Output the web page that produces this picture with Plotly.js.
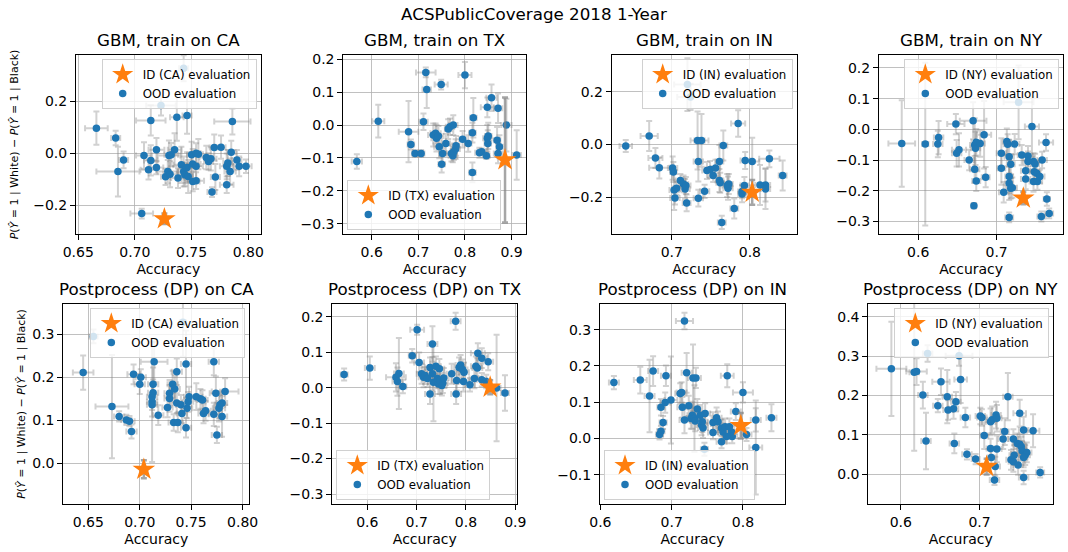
<!DOCTYPE html>
<html><head><meta charset="utf-8">
<script src="https://cdn.plot.ly/plotly-3.0.1.min.js"></script>
<style>html,body{margin:0;padding:0;background:#fff}#chart{width:1068px;height:552px}</style>
</head><body><div id="chart"></div>
<script>
// ---------- DATA ----------
const suptitle = 'ACSPublicCoverage 2018 1-Year';
const panelTitles = ['GBM, train on CA','GBM, train on TX','GBM, train on IN','GBM, train on NY',
  'Postprocess (DP) on CA','Postprocess (DP) on TX','Postprocess (DP) on IN','Postprocess (DP) on NY'];
const trainStates = ['CA','TX','IN','NY','CA','TX','IN','NY'];
const xLabel = 'Accuracy';
const yLabel = '<i>P</i>(<i>Ŷ</i> = 1 | White) − <i>P</i>(<i>Ŷ</i> = 1 | Black)';

// ID (in-domain) evaluation per panel
const idAcc    = [0.726, 0.886, 0.803, 0.734, 0.704, 0.849, 0.797, 0.709];
const idGap    = [-0.253, -0.106, -0.182, -0.224, -0.014, 0.001, 0.035, 0.019];
const idAccErr = [0.003, 0.005, 0.004, 0.004, 0.003, 0.005, 0.003, 0.003];
const idGapErr = [0.020, 0.190, 0.047, 0.020, 0.021, 0.020, 0.035, 0.020];

// OOD evaluation: GBM train on CA
const gbmCA_acc = [0.666,0.683,0.690,0.685,0.706,0.708,0.714,0.723,0.714,0.712,0.719,0.730,0.735,0.737,0.746,0.743,0.729,0.727,0.731,0.738,0.741,0.743,0.744,0.746,0.747,0.750,0.751,0.754,0.754,0.754,0.756,0.763,0.765,0.767,0.770,0.776,0.786,0.785,0.771,0.768,0.781,0.782,0.781,0.784,0.790,0.792,0.798,0.751,0.719,0.732];
const gbmCA_gap = [0.096,0.058,-0.026,-0.071,-0.233,-0.009,0.126,0.183,-0.028,-0.064,-0.055,-0.009,0.013,0.138,0.145,0.327,-0.071,-0.091,-0.081,-0.096,-0.045,-0.071,-0.083,-0.055,-0.090,-0.006,-0.042,0.000,-0.051,-0.106,-0.004,-0.017,-0.032,-0.022,0.022,0.023,0.122,0.003,-0.092,-0.150,-0.051,-0.038,-0.122,-0.071,-0.026,-0.051,-0.051,-0.109,0.013,-0.006];
const gbmCA_accErr = [0.010,0.004,0.004,0.019,0.010,0.007,0.013,0.013,0.006,0.007,0.006,0.010,0.006,0.006,0.004,0.004,0.009,0.004,0.006,0.006,0.007,0.006,0.005,0.007,0.004,0.004,0.007,0.004,0.006,0.007,0.004,0.006,0.004,0.005,0.004,0.004,0.016,0.004,0.004,0.004,0.006,0.004,0.006,0.005,0.004,0.005,0.005,0.006,0.007,0.006];
const gbmCA_gapErr = [0.064,0.028,0.032,0.096,0.019,0.051,0.058,0.038,0.058,0.038,0.026,0.058,0.064,0.090,0.070,0.050,0.045,0.032,0.050,0.038,0.070,0.058,0.045,0.058,0.064,0.050,0.058,0.038,0.050,0.032,0.058,0.045,0.032,0.045,0.050,0.045,0.050,0.045,0.050,0.019,0.050,0.050,0.032,0.050,0.038,0.038,0.026,0.038,0.045,0.045];

// GBM train on TX
const gbmTX_acc = [0.568,0.614,0.679,0.684,0.693,0.706,0.711,0.716,0.718,0.749,0.732,0.737,0.739,0.743,0.745,0.752,0.750,0.759,0.764,0.768,0.775,0.771,0.774,0.776,0.780,0.781,0.800,0.795,0.807,0.816,0.818,0.816,0.831,0.836,0.846,0.848,0.849,0.850,0.848,0.857,0.871,0.869,0.874,0.871,0.889,0.911];
const gbmTX_gap = [-0.111,0.012,-0.020,-0.059,-0.086,-0.086,0.010,0.160,0.108,0.123,-0.030,-0.025,-0.040,-0.033,-0.066,-0.086,-0.119,-0.056,-0.012,-0.005,0.000,-0.086,-0.093,-0.081,-0.073,-0.063,0.152,-0.043,-0.056,-0.023,0.022,-0.144,-0.084,-0.081,-0.093,-0.040,-0.056,-0.033,0.054,0.083,0.051,-0.046,-0.066,-0.086,0.000,-0.091];
const gbmTX_accErr = [0.011,0.013,0.021,0.007,0.007,0.007,0.009,0.021,0.009,0.014,0.011,0.011,0.011,0.011,0.011,0.007,0.007,0.009,0.007,0.009,0.009,0.009,0.009,0.007,0.009,0.007,0.014,0.007,0.007,0.007,0.007,0.007,0.009,0.009,0.007,0.009,0.007,0.007,0.014,0.011,0.009,0.007,0.007,0.009,0.011,0.009];
const gbmTX_gapErr = [0.022,0.050,0.093,0.015,0.010,0.010,0.025,0.015,0.056,0.015,0.035,0.030,0.040,0.030,0.035,0.030,0.025,0.030,0.030,0.025,0.030,0.025,0.020,0.025,0.030,0.030,0.040,0.025,0.025,0.030,0.060,0.030,0.015,0.010,0.010,0.040,0.040,0.040,0.030,0.040,0.045,0.040,0.035,0.030,0.080,0.075];

// GBM train on IN
const gbmIN_acc = [0.641,0.671,0.679,0.684,0.701,0.702,0.703,0.704,0.706,0.711,0.715,0.717,0.718,0.719,0.720,0.724,0.733,0.738,0.734,0.734,0.742,0.745,0.749,0.753,0.756,0.761,0.761,0.762,0.766,0.764,0.771,0.772,0.773,0.780,0.785,0.790,0.790,0.793,0.794,0.803,0.820,0.825,0.842,0.813,0.820];
const gbmIN_gap = [-0.006,0.032,-0.052,-0.089,-0.090,-0.105,-0.173,-0.203,-0.166,-0.137,-0.150,-0.169,-0.156,-0.222,0.227,0.180,0.015,0.015,-0.065,-0.204,-0.178,-0.099,-0.095,-0.118,-0.090,-0.065,-0.137,-0.146,-0.004,-0.296,-0.156,-0.166,-0.150,-0.243,0.079,-0.188,-0.179,-0.156,-0.061,-0.065,-0.154,-0.055,-0.118,-0.154,-0.169];
const gbmIN_accErr = [0.008,0.011,0.009,0.013,0.006,0.004,0.006,0.006,0.004,0.006,0.006,0.006,0.006,0.005,0.017,0.017,0.009,0.009,0.006,0.006,0.006,0.006,0.006,0.006,0.006,0.005,0.005,0.005,0.005,0.005,0.006,0.006,0.005,0.005,0.009,0.005,0.005,0.005,0.006,0.009,0.006,0.013,0.005,0.006,0.006];
const gbmIN_gapErr = [0.023,0.057,0.038,0.040,0.044,0.038,0.076,0.025,0.025,0.025,0.032,0.038,0.032,0.032,0.100,0.050,0.110,0.100,0.076,0.032,0.025,0.032,0.032,0.025,0.032,0.063,0.044,0.038,0.057,0.025,0.044,0.044,0.038,0.038,0.050,0.032,0.025,0.032,0.032,0.090,0.063,0.032,0.057,0.076,0.076];

// GBM train on NY
const gbmNY_acc = [0.579,0.609,0.626,0.625,0.648,0.649,0.652,0.665,0.670,0.672,0.673,0.674,0.672,0.674,0.679,0.684,0.686,0.671,0.706,0.706,0.709,0.713,0.714,0.716,0.716,0.716,0.716,0.718,0.718,0.720,0.723,0.728,0.732,0.737,0.737,0.740,0.740,0.745,0.747,0.748,0.747,0.749,0.751,0.752,0.755,0.758,0.757,0.763,0.764,0.767];
const gbmNY_gap = [-0.046,-0.048,-0.027,-0.048,0.017,-0.078,-0.067,-0.100,0.028,-0.051,-0.062,-0.042,-0.130,-0.168,-0.046,-0.018,-0.156,-0.249,-0.078,-0.127,-0.205,-0.040,-0.049,-0.089,-0.154,-0.176,-0.287,-0.114,-0.192,-0.190,-0.048,0.088,-0.084,-0.135,-0.162,-0.087,-0.105,0.009,-0.105,-0.138,-0.170,-0.113,-0.143,-0.170,-0.154,-0.100,-0.284,-0.043,-0.227,-0.274];
const gbmNY_accErr = [0.017,0.004,0.006,0.006,0.011,0.006,0.009,0.006,0.017,0.006,0.006,0.006,0.006,0.005,0.006,0.009,0.005,0.003,0.006,0.005,0.006,0.005,0.005,0.006,0.005,0.005,0.005,0.005,0.006,0.006,0.006,0.019,0.005,0.006,0.006,0.006,0.006,0.009,0.006,0.006,0.005,0.005,0.005,0.006,0.006,0.006,0.005,0.009,0.004,0.005];
const gbmNY_gapErr = [0.141,0.265,0.054,0.043,0.033,0.043,0.054,0.033,0.060,0.087,0.054,0.043,0.043,0.033,0.043,0.110,0.033,0.009,0.049,0.054,0.033,0.043,0.033,0.054,0.054,0.054,0.016,0.033,0.033,0.033,0.033,0.120,0.033,0.033,0.033,0.033,0.033,0.098,0.027,0.033,0.033,0.033,0.033,0.027,0.022,0.027,0.016,0.027,0.022,0.016];

// Postprocess (DP) on CA
const dpCA_acc = [0.645,0.655,0.673,0.680,0.687,0.692,0.694,0.700,0.701,0.712,0.712,0.713,0.713,0.714,0.712,0.718,0.727,0.729,0.729,0.732,0.733,0.736,0.734,0.737,0.736,0.740,0.741,0.742,0.745,0.745,0.746,0.748,0.747,0.755,0.759,0.761,0.762,0.764,0.772,0.772,0.774,0.775,0.777,0.780,0.780,0.783,0.778,0.690];
const dpCA_gap = [0.211,0.295,0.132,0.109,0.101,0.074,0.207,0.184,0.200,0.143,0.155,0.164,0.184,0.236,0.136,0.112,0.130,0.151,0.163,0.184,0.095,0.213,0.173,0.095,0.140,0.136,0.116,0.328,0.231,0.083,0.128,0.155,0.143,0.155,0.150,0.147,0.116,0.122,0.114,0.236,0.163,0.066,0.128,0.140,0.109,0.167,0.136,0.098];
const dpCA_accErr = [0.010,0.004,0.016,0.005,0.005,0.005,0.006,0.005,0.005,0.005,0.005,0.005,0.005,0.013,0.005,0.005,0.005,0.005,0.005,0.005,0.005,0.005,0.005,0.005,0.005,0.005,0.005,0.003,0.005,0.005,0.005,0.005,0.005,0.006,0.005,0.005,0.005,0.005,0.005,0.005,0.006,0.005,0.006,0.005,0.005,0.013,0.005,0.005];
const dpCA_gapErr = [0.040,0.016,0.120,0.012,0.012,0.016,0.023,0.023,0.019,0.140,0.031,0.031,0.039,0.047,0.027,0.023,0.023,0.031,0.031,0.031,0.019,0.031,0.031,0.023,0.023,0.023,0.023,0.080,0.078,0.023,0.023,0.023,0.023,0.031,0.023,0.023,0.023,0.023,0.027,0.031,0.039,0.019,0.031,0.031,0.047,0.031,0.031,0.012];

// Postprocess (DP) on TX
const dpTX_acc = [0.553,0.605,0.658,0.661,0.664,0.672,0.691,0.701,0.705,0.710,0.714,0.717,0.722,0.727,0.727,0.732,0.732,0.734,0.739,0.742,0.744,0.746,0.747,0.751,0.753,0.755,0.771,0.779,0.781,0.780,0.786,0.789,0.793,0.795,0.796,0.808,0.817,0.820,0.823,0.824,0.832,0.832,0.841,0.845,0.862,0.879];
const dpTX_gap = [0.037,0.055,0.029,0.017,0.040,0.003,0.090,0.163,0.071,0.039,0.029,0.034,0.026,0.057,-0.018,0.123,0.039,0.015,0.060,0.026,0.010,0.053,0.020,0.006,0.013,0.027,0.039,0.187,0.020,-0.018,0.057,0.064,0.051,0.017,0.043,0.008,0.026,0.060,0.055,0.097,0.083,0.022,0.017,0.073,-0.001,-0.015];
const dpTX_accErr = [0.007,0.010,0.020,0.010,0.010,0.007,0.007,0.014,0.010,0.010,0.010,0.010,0.010,0.010,0.010,0.010,0.010,0.010,0.010,0.010,0.010,0.010,0.010,0.010,0.010,0.010,0.010,0.010,0.010,0.010,0.010,0.010,0.010,0.010,0.010,0.010,0.010,0.010,0.010,0.014,0.010,0.010,0.010,0.010,0.008,0.008];
const dpTX_gapErr = [0.017,0.033,0.040,0.040,0.100,0.019,0.019,0.014,0.028,0.028,0.028,0.024,0.024,0.028,0.028,0.050,0.047,0.110,0.028,0.028,0.028,0.028,0.038,0.028,0.028,0.028,0.028,0.024,0.028,0.028,0.028,0.028,0.028,0.028,0.028,0.019,0.028,0.028,0.028,0.028,0.028,0.019,0.019,0.024,0.150,0.050];

// Postprocess (DP) on IN
const dpIN_acc = [0.619,0.656,0.669,0.674,0.683,0.685,0.685,0.688,0.691,0.692,0.699,0.712,0.714,0.715,0.718,0.721,0.718,0.724,0.727,0.729,0.730,0.734,0.732,0.733,0.736,0.740,0.742,0.743,0.744,0.746,0.747,0.758,0.758,0.763,0.765,0.770,0.770,0.772,0.775,0.778,0.784,0.785,0.790,0.800,0.805,0.818,0.818,0.840,0.781,0.777];
const dpIN_gap = [0.154,0.161,0.117,0.186,0.011,0.020,0.086,0.044,0.099,0.173,0.106,0.124,0.127,0.086,0.324,0.181,0.051,0.090,0.055,0.064,0.167,0.167,0.055,0.048,0.081,0.064,0.037,0.046,0.029,-0.030,0.069,0.044,0.016,0.057,0.046,-0.009,0.029,0.018,0.032,0.173,0.018,0.005,0.074,0.127,0.011,0.051,-0.025,0.057,0.032,0.005];
const dpIN_accErr = [0.007,0.009,0.007,0.007,0.005,0.005,0.005,0.005,0.007,0.007,0.009,0.007,0.007,0.007,0.012,0.007,0.007,0.007,0.007,0.007,0.007,0.007,0.007,0.007,0.007,0.007,0.007,0.007,0.007,0.005,0.007,0.007,0.007,0.007,0.007,0.007,0.007,0.007,0.007,0.009,0.007,0.007,0.007,0.014,0.007,0.007,0.009,0.007,0.007,0.005];
const dpIN_gapErr = [0.018,0.037,0.100,0.041,0.014,0.014,0.023,0.018,0.028,0.028,0.120,0.028,0.028,0.028,0.023,0.055,0.037,0.028,0.028,0.037,0.092,0.028,0.092,0.028,0.028,0.028,0.028,0.028,0.028,0.018,0.028,0.028,0.018,0.028,0.028,0.018,0.023,0.023,0.023,0.032,0.018,0.018,0.023,0.028,0.018,0.032,0.130,0.037,0.023,0.018];

// Postprocess (DP) on NY
const dpNY_acc = [0.588,0.617,0.620,0.632,0.634,0.628,0.647,0.651,0.659,0.660,0.667,0.668,0.670,0.674,0.676,0.682,0.684,0.695,0.701,0.703,0.706,0.714,0.714,0.715,0.716,0.719,0.720,0.721,0.722,0.722,0.730,0.732,0.736,0.740,0.743,0.743,0.744,0.748,0.749,0.751,0.751,0.753,0.754,0.756,0.756,0.758,0.760,0.768,0.777,0.756];
const dpNY_gap = [0.268,0.259,0.261,0.084,0.307,0.201,0.174,0.235,0.197,0.163,0.166,0.078,0.184,0.301,0.241,0.144,0.050,0.038,0.148,0.144,0.098,0.065,0.133,0.042,0.138,-0.015,0.019,0.150,0.064,0.142,0.089,0.108,0.197,0.036,0.031,0.089,0.048,0.078,0.023,0.155,0.076,0.070,0.059,-0.009,0.112,0.048,0.055,0.110,0.004,0.042];
const dpNY_accErr = [0.019,0.006,0.013,0.006,0.006,0.006,0.006,0.011,0.006,0.006,0.006,0.006,0.006,0.017,0.008,0.006,0.006,0.005,0.006,0.006,0.005,0.005,0.006,0.005,0.006,0.006,0.006,0.006,0.006,0.006,0.006,0.005,0.006,0.006,0.006,0.006,0.006,0.006,0.006,0.008,0.006,0.006,0.006,0.006,0.006,0.006,0.006,0.008,0.005,0.005];
const dpNY_gapErr = [0.120,0.200,0.034,0.072,0.021,0.034,0.017,0.034,0.068,0.025,0.025,0.025,0.025,0.025,0.060,0.025,0.013,0.013,0.021,0.021,0.034,0.025,0.034,0.025,0.034,0.013,0.025,0.034,0.034,0.034,0.025,0.034,0.060,0.025,0.025,0.025,0.025,0.025,0.025,0.034,0.025,0.025,0.025,0.017,0.034,0.025,0.025,0.042,0.013,0.025];

// ---------- LAYOUT / STYLE ----------
const W = 1068, H = 552;
const series = [
  [gbmCA_acc, gbmCA_gap, gbmCA_accErr, gbmCA_gapErr],
  [gbmTX_acc, gbmTX_gap, gbmTX_accErr, gbmTX_gapErr],
  [gbmIN_acc, gbmIN_gap, gbmIN_accErr, gbmIN_gapErr],
  [gbmNY_acc, gbmNY_gap, gbmNY_accErr, gbmNY_gapErr],
  [dpCA_acc, dpCA_gap, dpCA_accErr, dpCA_gapErr],
  [dpTX_acc, dpTX_gap, dpTX_accErr, dpTX_gapErr],
  [dpIN_acc, dpIN_gap, dpIN_accErr, dpIN_gapErr],
  [dpNY_acc, dpNY_gap, dpNY_accErr, dpNY_gapErr]
];
// pixel boxes [left, right, top, bottom]
const boxes = [
  [76, 260.7, 55, 234], [343.3, 526, 55, 234], [611.7, 796.7, 55, 234], [879, 1063.3, 55, 234],
  [63.3, 249.3, 304, 504], [332.3, 517.3, 304, 504], [600, 785, 304, 504], [868.3, 1053.3, 304, 504]
];
const xRanges = [[0.648,0.811],[0.539,0.931],[0.623,0.860],[0.550,0.785],[0.6257,0.8065],[0.529,0.904],[0.5995,0.859],[0.5587,0.7937]];
const yRanges = [[-0.3115,0.378],[-0.331,0.213],[-0.340,0.339],[-0.341,0.242],[-0.0946,0.3705],[-0.328,0.2357],[-0.181,0.371],[-0.0764,0.433]];
const xDt = [0.05,0.1,0.1,0.1,0.05,0.1,0.1,0.1];
const yDt = [0.2,0.1,0.2,0.1,0.1,0.1,0.1,0.1];
const xFmt = ['.2f','.1f','.1f','.1f','.2f','.1f','.1f','.1f'];
const legendPos = ['ur','ll','ur','ur','ur','ll','ll','ur'];

const FONT = 'DejaVu Sans, Verdana, sans-serif';
const traces = [];
const layout = {
  width: W, height: H, autosize: false,
  margin: {l:0, r:0, t:0, b:0},
  paper_bgcolor: '#fff', plot_bgcolor: '#fff',
  font: {family: FONT, color: '#000', size: 14},
  title: {text: suptitle, font: {family: FONT, size: 16.7, color: '#000'},
          x: 0.5, xanchor: 'center', xref: 'paper', y: 1 - 14/H, yanchor: 'middle', yref: 'container'},
  showlegend: true,
  annotations: []
};

for (let i = 0; i < 8; i++) {
  const s = i === 0 ? '' : String(i + 1);
  const [l, r, t, b] = boxes[i];
  const xd = [l / W, r / W], yd = [1 - b / H, 1 - t / H];
  const legKey = i === 0 ? 'legend' : 'legend' + (i + 1);
  const [acc, gap, accErr, gapErr] = series[i];

  traces.push({
    type: 'scatter', mode: 'markers', x: acc, y: gap,
    xaxis: 'x' + s, yaxis: 'y' + s, name: 'OOD evaluation', legend: legKey, legendrank: 2,
    marker: {color: '#1f77b4', size: 7.5},
    error_x: {type: 'data', array: accErr, color: 'rgba(128,128,128,0.36)', thickness: 2, width: 3},
    error_y: {type: 'data', array: gapErr, color: 'rgba(128,128,128,0.36)', thickness: 2, width: 3},
    hoverinfo: 'skip'
  });
  traces.push({
    type: 'scatter', mode: 'markers', x: [idAcc[i]], y: [idGap[i]],
    xaxis: 'x' + s, yaxis: 'y' + s, name: 'ID (' + trainStates[i] + ') evaluation', legend: legKey, legendrank: 1,
    marker: {color: '#ff7f0e', size: 17, symbol: 'star', line: {width: 0}},
    error_x: {type: 'data', array: [idAccErr[i]], color: 'rgba(128,128,128,0.7)', thickness: 2.5, width: 3},
    error_y: {type: 'data', array: [idGapErr[i]], color: 'rgba(128,128,128,0.7)', thickness: 2.5, width: 3},
    hoverinfo: 'skip'
  });

  const axCommon = {
    showline: true, mirror: true, linecolor: '#000', linewidth: 1,
    ticks: 'outside', ticklen: 5, tickwidth: 1, tickcolor: '#000',
    showgrid: true, gridcolor: '#b0b0b0', gridwidth: 0.8, zeroline: false,
    tickfont: {family: FONT, size: 14, color: '#000'}, fixedrange: true
  };
  layout['xaxis' + s] = Object.assign({}, axCommon, {
    domain: xd, range: xRanges[i], anchor: 'y' + s, dtick: xDt[i], tick0: 0, tickformat: xFmt[i],
    title: {text: xLabel, font: {family: FONT, size: 14, color: '#000'}, standoff: 5}
  });
  const yax = Object.assign({}, axCommon, {
    domain: yd, range: yRanges[i], anchor: 'x' + s, dtick: yDt[i], tick0: 0, tickformat: '.1f'
  });
  if (i === 0 || i === 4) {
    yax.title = {text: yLabel, font: {family: FONT, size: 11, color: '#000'}, standoff: i === 0 ? 12 : 4};
  }
  layout['yaxis' + s] = yax;

  // legend placement
  const leg = {
    bgcolor: 'rgba(255,255,255,0.8)', bordercolor: '#d0d0d0', borderwidth: 1,
    font: {family: FONT, size: 11.8, color: '#000'}, traceorder: 'normal',
    xref: 'paper', yref: 'paper', itemsizing: 'trace', tracegroupgap: 0
  };
  if (legendPos[i] === 'ur') {
    leg.x = (r - 4) / W; leg.xanchor = 'right'; leg.y = 1 - (t + 4) / H; leg.yanchor = 'top';
  } else {
    leg.x = (l + 4) / W; leg.xanchor = 'left'; leg.y = 1 - (b - 4) / H; leg.yanchor = 'bottom';
  }
  layout[legKey] = leg;

  layout.annotations.push({
    text: panelTitles[i], xref: 'paper', yref: 'paper',
    x: (xd[0] + xd[1]) / 2, y: yd[1], xanchor: 'center', yanchor: 'bottom', yshift: 3,
    showarrow: false, font: {family: FONT, size: 16.7, color: '#000'}
  });
}

Plotly.newPlot('chart', traces, layout, {staticPlot: true, displayModeBar: false});
</script>
</body></html>
